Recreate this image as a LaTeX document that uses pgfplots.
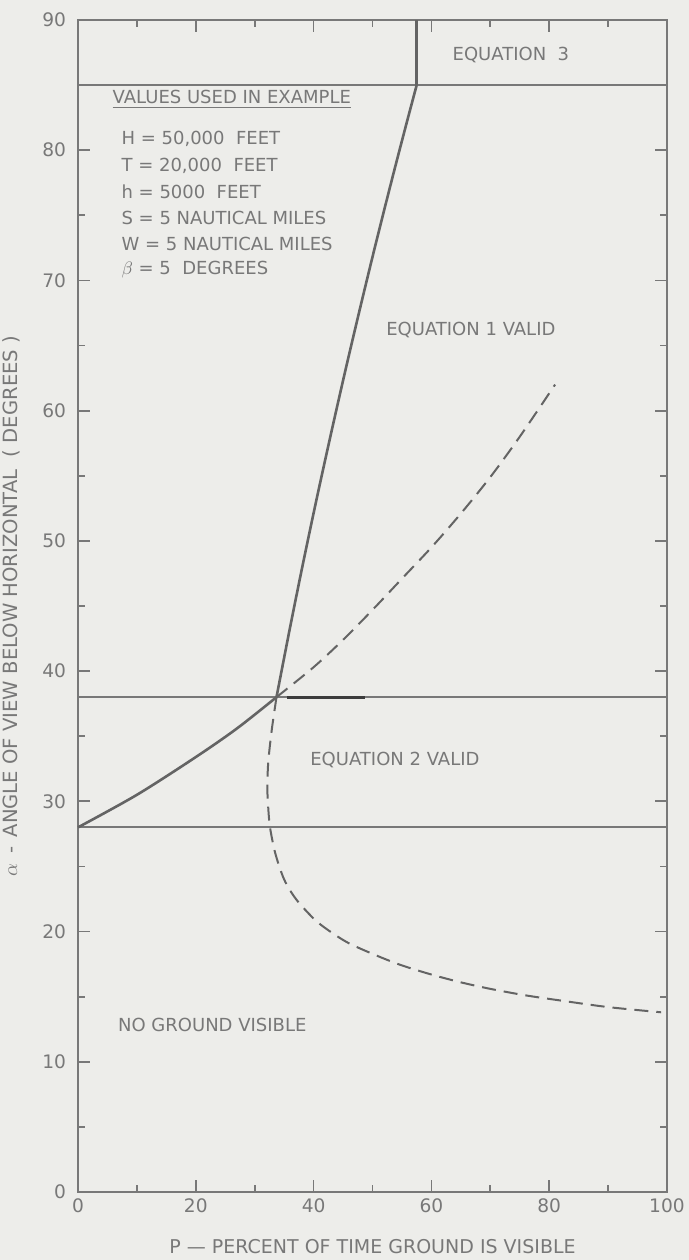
\documentclass[border=0pt]{standalone}
\usepackage{fontspec}
\setmainfont{DejaVu Sans}
\usepackage{pgfplots}
\pgfplotsset{compat=1.18}
\definecolor{bg}{RGB}{237,237,234}
\definecolor{ink}{RGB}{120,120,120}
\definecolor{curve}{RGB}{100,100,100}
\definecolor{txt}{RGB}{120,120,120}
\definecolor{dark}{RGB}{60,60,60}
\newcommand\lt{\fontsize{9}{10}\selectfont}
\begin{document}
\begin{tikzpicture}
\useasboundingbox (0,0) rectangle (344.5pt,630pt);
\fill[bg] (0,0) rectangle (344.5pt,630pt);
\begin{axis}[
  at={(39pt,34pt)}, anchor=south west,
  scale only axis, width=294.5pt, height=586pt,
  xmin=0, xmax=100, ymin=0, ymax=90,
  xtick={0,20,...,100}, ytick={0,10,...,90},
  minor xtick={10,30,...,90}, minor ytick={5,15,...,85},
  tick align=inside,
  major tick length=6pt, minor tick length=3.5pt,
  axis line style={ink, line width=1pt},
  every tick/.append style={ink, line width=0.9pt},
  tick label style={font=\fontsize{9.3}{10}\selectfont, text=txt},
  /pgf/number format/assume math mode=true,
  xticklabel style={yshift=0pt},
  yticklabel style={xshift=-2.5pt},
  xlabel={P — PERCENT OF TIME GROUND IS VISIBLE},
  xlabel style={at={(axis description cs:0.5,0)}, anchor=center, yshift=-27.5pt, font=\fontsize{9.5}{10}\selectfont, text=txt},
  ylabel={$\alpha$ \,-\, ANGLE OF VIEW BELOW HORIZONTAL \ ( DEGREES )},
  ylabel style={at={(axis description cs:-0.1138,0.5)}, anchor=center, font=\fontsize{9.8}{10}\selectfont, text=txt},
  clip=false,
]
% region boundaries
\addplot[ink, line width=0.9pt] coordinates {(0,28) (100,28)};
\addplot[ink, line width=0.9pt] coordinates {(0,38) (100,38)};
\addplot[ink, line width=0.9pt] coordinates {(0,85) (100,85)};
\addplot[dark, line width=1.5pt] coordinates {(35.4,38) (48.7,38)};
% lower solid curve
\addplot[curve, line width=1.3pt, smooth] coordinates {
(0,28) (10,30.5) (20,33.4) (27,35.6) (33.7,38.0)};
% upper solid curve
\addplot[curve, line width=1.3pt, smooth] coordinates {
(33.7,38) (35.85,43) (38.08,48) (40.41,53) (42.84,58) (45.35,63) (47.96,68) (50.65,73) (53.44,78) (55.74,82) (57.5,85)};
\addplot[curve, line width=1.3pt] coordinates {(57.5,85) (57.5,90)};
% upper dashed curve
\addplot[curve, line width=1pt, smooth, dash pattern=on 7pt off 4pt] coordinates {
(33.7,38) (40,40.3) (45,42.4) (50,44.7) (55,47.1) (60,49.5) (65,52.1) (70,54.9) (75,58.0) (81,62.0)};
% lower dashed curve
\addplot[curve, line width=1pt, smooth, dash pattern=on 7pt off 4pt] coordinates {
(33.7,38) (32.9,35.5) (32.3,33) (32.15,31) (32.3,29.5) (32.6,28) (33.5,26) (35,24) (37,22.5)
(40,21) (42.5,20.1) (46,19.1) (51,18.1) (55,17.4) (60,16.7) (65,16.1) (70,15.6) (76,15.1)
(82,14.7) (90,14.2) (99,13.8)};
% labels
\node[txt, font=\lt] at (axis cs:73.5,87.3) {EQUATION \ 3};
\node[txt, font=\lt, anchor=west] at (axis cs:4.7,83.9) {\underline{VALUES USED IN EXAMPLE}};
\node[txt, font=\lt, anchor=west] at (axis cs:6.2,80.9) {H = 50,000 \ FEET};
\node[txt, font=\lt, anchor=west] at (axis cs:6.2,78.8) {T = 20,000 \ FEET};
\node[txt, font=\lt, anchor=west] at (axis cs:6.2,76.8) {h = 5000 \ FEET};
\node[txt, font=\lt, anchor=west] at (axis cs:6.2,74.8) {S = 5 NAUTICAL MILES};
\node[txt, font=\lt, anchor=west] at (axis cs:6.2,72.8) {W = 5 NAUTICAL MILES};
\node[txt, font=\lt, anchor=west] at (axis cs:6.2,70.8) {$\beta$ = 5 \ DEGREES};
\node[txt, font=\lt] at (axis cs:66.7,66.2) {EQUATION 1 VALID};
\node[txt, font=\lt] at (axis cs:53.8,33.2) {EQUATION 2 VALID};
\node[txt, font=\lt] at (axis cs:22.8,12.8) {NO GROUND VISIBLE};
\end{axis}
\end{tikzpicture}
\end{document}
